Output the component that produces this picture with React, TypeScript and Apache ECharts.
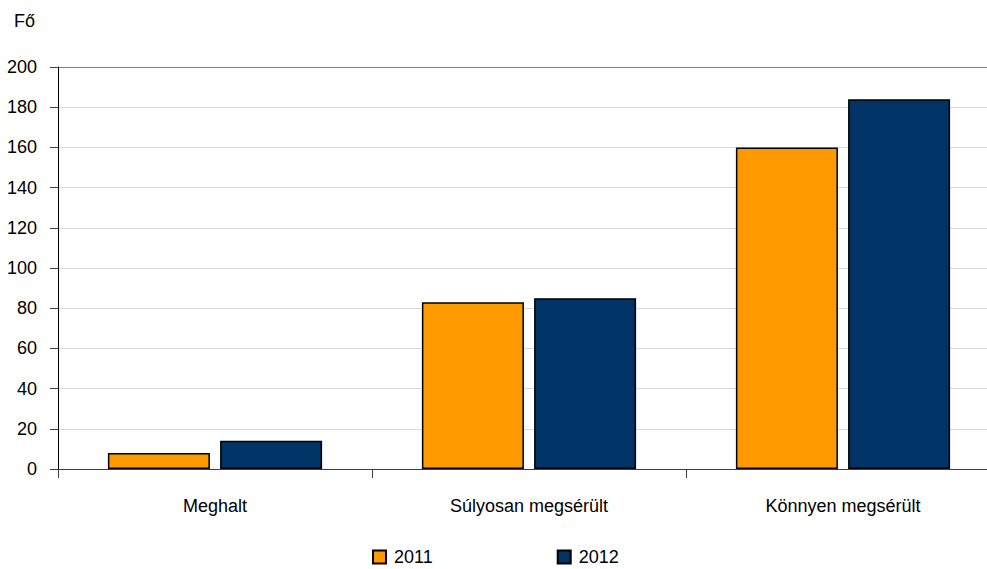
import React, { useEffect, useRef } from "react";
import * as echarts from "echarts";

const categories = ["Meghalt", "Súlyosan megsérült", "Könnyen megsérült"];
const values2011 = [8, 83, 160];
const values2012 = [14, 85, 184];
const seriesNames = ["2011", "2012"];
const yTicks = { min: 0, max: 200, interval: 20 };
const unitLabel = "Fő";

const FONT = "'Liberation Sans', Arial, sans-serif";
const FS = 18;

export default function App() {
  const ref = useRef<HTMLDivElement>(null);
  useEffect(() => {
    if (!ref.current) return;
    const chart = echarts.init(ref.current, null, { renderer: "svg" });
    const gridColors = [] as string[];
    for (let v = yTicks.min; v <= yTicks.max; v += yTicks.interval) {
      gridColors.push(v === yTicks.max ? "#808080" : "#d9d9d9");
    }
    chart.setOption({
      animation: false,
      backgroundColor: "#ffffff",
      textStyle: { fontFamily: FONT },
      grid: { left: 58, top: 67, right: 0, bottom: 100, containLabel: false, outerBoundsMode: "none" },
      graphic: [
        {
          type: "text",
          left: 14,
          top: 12,
          style: { text: unitLabel, font: `${FS}px ${FONT}`, fill: "#000" },
        },
      ],
      legend: {
        left: 367,
        top: 543,
        itemWidth: 13,
        itemHeight: 13,
        itemGap: 124,
        icon: "rect",
        textStyle: { fontSize: FS, color: "#000", fontFamily: FONT, padding: [0, 0, 0, 3] },
        data: seriesNames,
      },
      xAxis: {
        type: "category",
        data: categories,
        axisLine: { lineStyle: { color: "#404040", width: 1 } },
        axisTick: { show: true, length: 9, lineStyle: { color: "#404040" } },
        axisLabel: { fontSize: FS, color: "#000", margin: 28, fontFamily: FONT },
        splitLine: { show: false },
      },
      yAxis: {
        type: "value",
        min: yTicks.min,
        max: yTicks.max,
        interval: yTicks.interval,
        axisLine: { show: true, lineStyle: { color: "#000", width: 1 } },
        axisTick: { show: true, length: 8, lineStyle: { color: "#404040" } },
        axisLabel: { fontSize: FS, color: "#000", margin: 21, fontFamily: FONT },
        splitLine: { show: true, lineStyle: { color: gridColors, width: 1 } },
      },
      series: [
        {
          name: seriesNames[0],
          type: "bar",
          data: values2011,
          barWidth: 102,
          barGap: "10%",
          itemStyle: { color: "#FF9900", borderColor: "#000", borderWidth: 1.5 },
        },
        {
          name: seriesNames[1],
          type: "bar",
          data: values2012,
          barWidth: 102,
          barGap: "10%",
          itemStyle: { color: "#003366", borderColor: "#000", borderWidth: 1.5 },
        },
      ],
    });
    return () => chart.dispose();
  }, []);
  return (
    <div
      style={{ position: "absolute", left: 0, top: 0, width: 987, height: 569, overflow: "hidden" }}
    >
      <div ref={ref} style={{ width: 1000, height: 569 }} />
    </div>
  );
}
